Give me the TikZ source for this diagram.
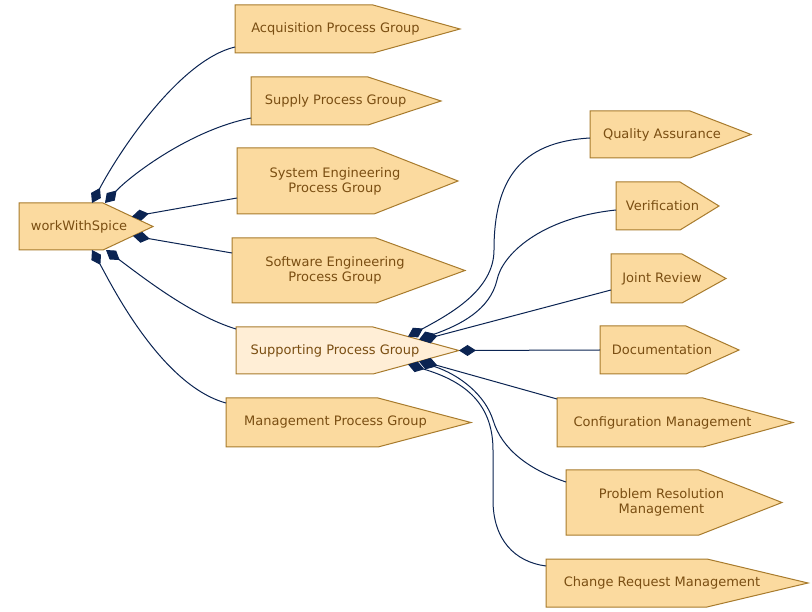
\documentclass[tikz,border=0pt]{standalone}
\usepackage{fontspec}
\setmainfont{DejaVu Sans}
\usetikzlibrary{arrows.meta,calc}
\definecolor{boxfill}{HTML}{FBDA9F}
\definecolor{boxfillhl}{HTML}{FFEED6}
\definecolor{boxline}{HTML}{A87B2D}
\definecolor{boxtext}{HTML}{7A4E12}
\definecolor{edgecol}{HTML}{0B2452}
\tikzset{
  procshape/.style={draw=boxline, line width=1pt, line join=miter},
  procarea/.style={rectangle, draw=none, inner sep=0pt, outer sep=0pt},
  proctext/.style={text=boxtext, font=\fontsize{13}{15}\selectfont, align=center, inner sep=0pt},
  link/.style={draw=edgecol, line width=1pt, {Diamond[length=17pt,width=11pt]}-},
}
% name, left, shoulder, tip, top, bottom, text x, fill, text
\newcommand\procnode[9]{%
  \draw[procshape, fill=#8] (#2,#5) -- (#3,#5) -- (#4,{(#5+#6)/2}) -- (#3,#6) -- (#2,#6) -- cycle;
  \node[procarea, minimum width={(#4-#2)*1pt}, minimum height={(#6-#5)*1pt}] (#1) at ({(#2+#4)/2},{(#5+#6)/2}) {};
  \node[proctext] (#1-label) at (#7,{(#5+#6)/2}) {#9};
}
\begin{document}
\begin{tikzpicture}[x=1pt, y=-1pt]
\useasboundingbox (0,0) rectangle (812,612);
\fill[white] (0,0) rectangle (812,612);

\procnode{w}{19}{103}{153}{203}{250}{79}{boxfill}{workWithSpice}
\procnode{acq}{235}{373}{460}{5}{53}{335.5}{boxfill}{Acquisition Process Group}
\procnode{sup}{251}{368}{441}{77}{125}{335.5}{boxfill}{Supply Process Group}
\procnode{sys}{237}{374}{458}{148}{214}{335}{boxfill}{System Engineering\\Process Group}
\procnode{swe}{232}{376}{465}{238}{303}{335}{boxfill}{Software Engineering\\Process Group}
\procnode{sp}{236}{373}{459}{327}{374}{335}{boxfillhl}{Supporting Process Group}
\procnode{mgt}{226}{378}{471}{398}{447}{335.5}{boxfill}{Management Process Group}

\procnode{q}{590}{690}{751}{111}{158}{662}{boxfill}{Quality Assurance}
\procnode{v}{616}{680}{719}{182}{230}{662.5}{boxfill}{Verification}
\procnode{j}{611}{682}{726}{254}{303}{662}{boxfill}{Joint Review}
\procnode{d}{600}{686}{739}{326}{374}{662}{boxfill}{Documentation}
\procnode{c}{557}{703}{793}{398}{447}{662.5}{boxfill}{Configuration Management}
\procnode{p}{566}{699}{782}{470}{535}{661.5}{boxfill}{Problem Resolution\\Management}
\procnode{cr}{546}{707}{808}{559}{607}{662}{boxfill}{Change Request Management}

% edges from workWithSpice
\draw[link] ($(w.north west)+(73,0)$) .. controls (120,150) and (180,60) .. ($(acq.west)+(0,18)$);
\draw[link] ($(w.north west)+(86,0)$) .. controls (130,176) and (190,130) .. ($(sup.west)+(0,17)$);
\draw[link] ($(w.north west)+(113,13.6)$) -- ($(sys.west)+(0,17)$);
\draw[link] ($(w.south west)+(114,-14.1)$) -- ($(swe.west)+(0,-17.5)$);
\draw[link] ($(w.south west)+(87,0)$) .. controls (140,275) and (190,315) .. ($(sp.north west)+(0,2)$);
\draw[link] ($(w.south west)+(73,0)$) .. controls (109,280) and (160,385) .. ($(mgt.north west)+(0,5)$);

% edges from Supporting Process Group
\draw[link] ($(sp.north west)+(172,9.6)$) .. controls (450,314) and (494,290) .. (494,250)
  .. controls (494,180) and (520,142) .. ($(q.west)+(0,3.5)$);
\draw[link] ($(sp.north west)+(183,12.6)$) .. controls (460,325) and (490,310) .. (497,280)
  .. controls (502,255) and (540,218) .. ($(v.west)+(0,4)$);
\draw[link] ($(sp.north west)+(185,13.2)$) -- ($(j.west)+(0,11.5)$);
\draw[link] (sp.east) -- (d.west);
\draw[link] ($(sp.south west)+(185,-13.1)$) -- ($(c.north west)+(0,1)$);
\draw[link] ($(sp.south west)+(183,-12.6)$) .. controls (460,375) and (485,395) .. (493,420)
  .. controls (502,450) and (530,470) .. ($(p.west)+(0,-20.5)$);
\draw[link] ($(sp.south west)+(172,-9.6)$) .. controls (460,380) and (493,400) .. (493,450)
  -- (493,500) .. controls (493,540) and (515,562) .. ($(cr.west)+(0,-17)$);
\end{tikzpicture}
\end{document}
